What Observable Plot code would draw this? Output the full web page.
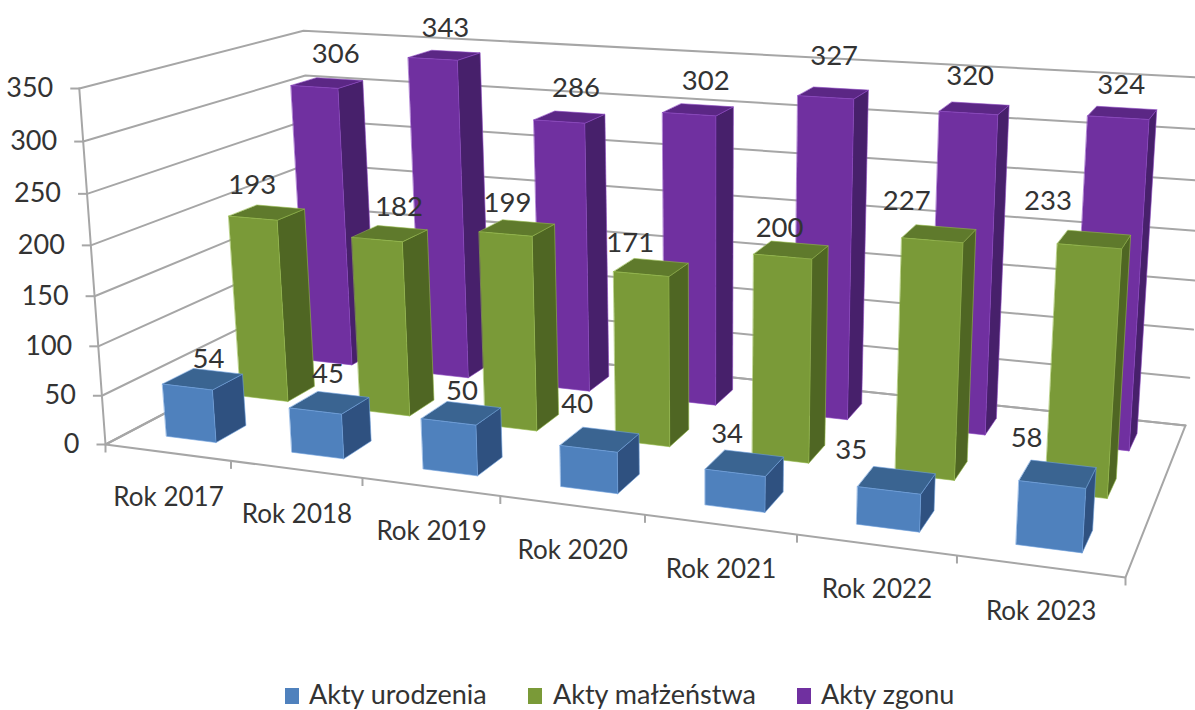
<!DOCTYPE html>
<html><head><meta charset="utf-8">
<script src="https://cdn.jsdelivr.net/npm/d3@7"></script>
<script src="https://cdn.jsdelivr.net/npm/@observablehq/plot@0.6"></script>
<style>
body{margin:0;background:#fff;font-family:Lato,sans-serif;overflow:hidden}
#legend{position:absolute;left:0;top:670px;width:1195px;height:40px;color:#333;font-size:27px;line-height:1}
#legend span{position:absolute;top:10px;white-space:nowrap}
#legend i{position:absolute;top:18px;width:14px;height:16px}
</style></head><body>
<div id="chart"></div><div id="legend"></div>
<script>
const years = ["Rok 2017","Rok 2018","Rok 2019","Rok 2020","Rok 2021","Rok 2022","Rok 2023"];
const seriesNames = ["Akty urodzenia","Akty małżeństwa","Akty zgonu"];
const urodzenia = [54,45,50,40,34,35,58];
const malzenstwa = [193,182,199,171,200,227,233];
const zgony = [306,343,286,302,327,320,324];
const axisTicks = [0,50,100,150,200,250,300,350];
const valueMax = 350;
const shades = [
  {front:"#4F81BD",top:"#3A6491",side:"#2F5180",edge:"#6FA0DC"},
  {front:"#7A9A38",top:"#5F7A2C",side:"#4F6623",edge:"#93B84A"},
  {front:"#7030A0",top:"#5B2785",side:"#47206B",edge:"#8A45BF"}
];
const seriesValues = [urodzenia,malzenstwa,zgony];
// label placement offsets, px, per series and year
const labelShiftX = [[5,-2,0,-23,-18,-46,-32],[-17,7,-12,-23,-14,-35,-49],[5,-3,3,4,-3,-8,-5]];
const labelShiftY = [[2,-6,0,-13,-7,-8,-14],[-5,-4,-3,-2,0,-10,-16],[-7,-5,-7,-7,-15,-10,-6]];

// 3D camera: (u along years, v depth, w height) in 0..1
const camX=[105,842.25,269.4,-30], camY=[444,41.8,-49.5,-360.2], camD=[1,-.158,.1847,-.048];
const barLean=-4;
const dot=(m,u,v,w)=>m[0]+m[1]*u+m[2]*v+m[3]*w;
const P=(u,v,w)=>({x:dot(camX,u,v,w)/dot(camD,u,v,w),y:dot(camY,u,v,w)/dot(camD,u,v,w)});

const nC=years.length,nS=seriesNames.length,gap=.3;
const faces=[];
let id=0;
for(let s=nS-1;s>=0;s--)for(let c=0;c<nC;c++){
  const u0=(c+gap)/nC,u1=(c+1-gap)/nC,v0=(s+gap)/nS,v1=(s+1-gap)/nS,w=seriesValues[s][c]/valueMax,k=shades[s];
  const add=(pts,fill)=>{id++;pts.forEach(p=>{const q=P(...p);faces.push({x:q.x+barLean*p[2],y:q.y,face:id,fill,edge:k.edge})})};
  add([[u1,v0,0],[u1,v1,0],[u1,v1,w],[u1,v0,w]],k.side);
  add([[u0,v0,w],[u1,v0,w],[u1,v1,w],[u0,v1,w]],k.top);
  add([[u0,v0,0],[u1,v0,0],[u1,v0,w],[u0,v0,w]],k.front);
}
const grid=[];
axisTicks.forEach(t=>{const w=t/valueMax;[[0,0,w],[0,1,w],[1,1,w]].forEach(p=>grid.push({...P(...p),t}))});
const floor=[[0,0,0],[1,0,0],[1,1,0],[0,1,0],[0,0,0]].map(p=>P(...p));
const axisLine=[[0,0,0],[0,0,1]].map(p=>P(...p));
const yTicks=axisTicks.map(t=>({...P(0,0,t/valueMax),t}));
const xTicks=d3.range(nC+1).map(i=>P(i/nC,0,0));
const yearLabels=years.map((name,i)=>({...P((i+.5)/nC,0,0),name}));
const labels=[];
seriesValues.forEach((vals,s)=>vals.forEach((val,c)=>{
  const p=P((c+.5)/nC,(s+.5)/nS,val/valueMax);
  labels.push({x:p.x+labelShiftX[s][c],y:p.y+labelShiftY[s][c],val});
}));

const font={fontFamily:"Lato, sans-serif",fill:"#333"};
const gridColor="#a6a6a6";
const plot=Plot.plot({
  width:1195,height:670,margin:0,
  x:{domain:[0,1195],range:[0,1195],axis:null},
  y:{domain:[0,670],range:[0,670],axis:null},
  color:{type:"identity"},
  marks:[
    Plot.line(grid,{x:"x",y:"y",z:"t",stroke:gridColor,strokeWidth:2}),
    Plot.line(floor,{x:"x",y:"y",stroke:gridColor,strokeWidth:2}),
    Plot.line(axisLine,{x:"x",y:"y",stroke:gridColor,strokeWidth:2}),
    Plot.link(yTicks,{x1:"x",y1:"y",x2:d=>d.x-9,y2:"y",stroke:gridColor,strokeWidth:2}),
    Plot.link(xTicks,{x1:"x",y1:"y",x2:"x",y2:d=>d.y+8,stroke:gridColor,strokeWidth:2}),
    Plot.line(faces,{x:"x",y:"y",z:"face",fill:"fill",stroke:"edge",strokeWidth:.6,curve:"linear-closed"}),
    Plot.text(yTicks,{x:d=>d.x-26,y:"y",text:d=>String(d.t),textAnchor:"end",fontSize:27,...font}),
    Plot.text(yearLabels,{x:d=>d.x+1,y:"y",dy:45,text:"name",fontSize:26,...font}),
    Plot.text(labels,{x:"x",y:"y",dy:-22,text:d=>String(d.val),fontSize:27.5,...font})
  ]
});
document.getElementById("chart").append(plot);
const lg=document.getElementById("legend");
[[285,309],[528,553],[797,821]].forEach(([sx,tx],i)=>{
  const sw=document.createElement("i");sw.style.left=sx+"px";sw.style.background=shades[i].front;lg.append(sw);
  const t=document.createElement("span");t.style.left=tx+"px";t.textContent=seriesNames[i];lg.append(t);
});
</script></body></html>
